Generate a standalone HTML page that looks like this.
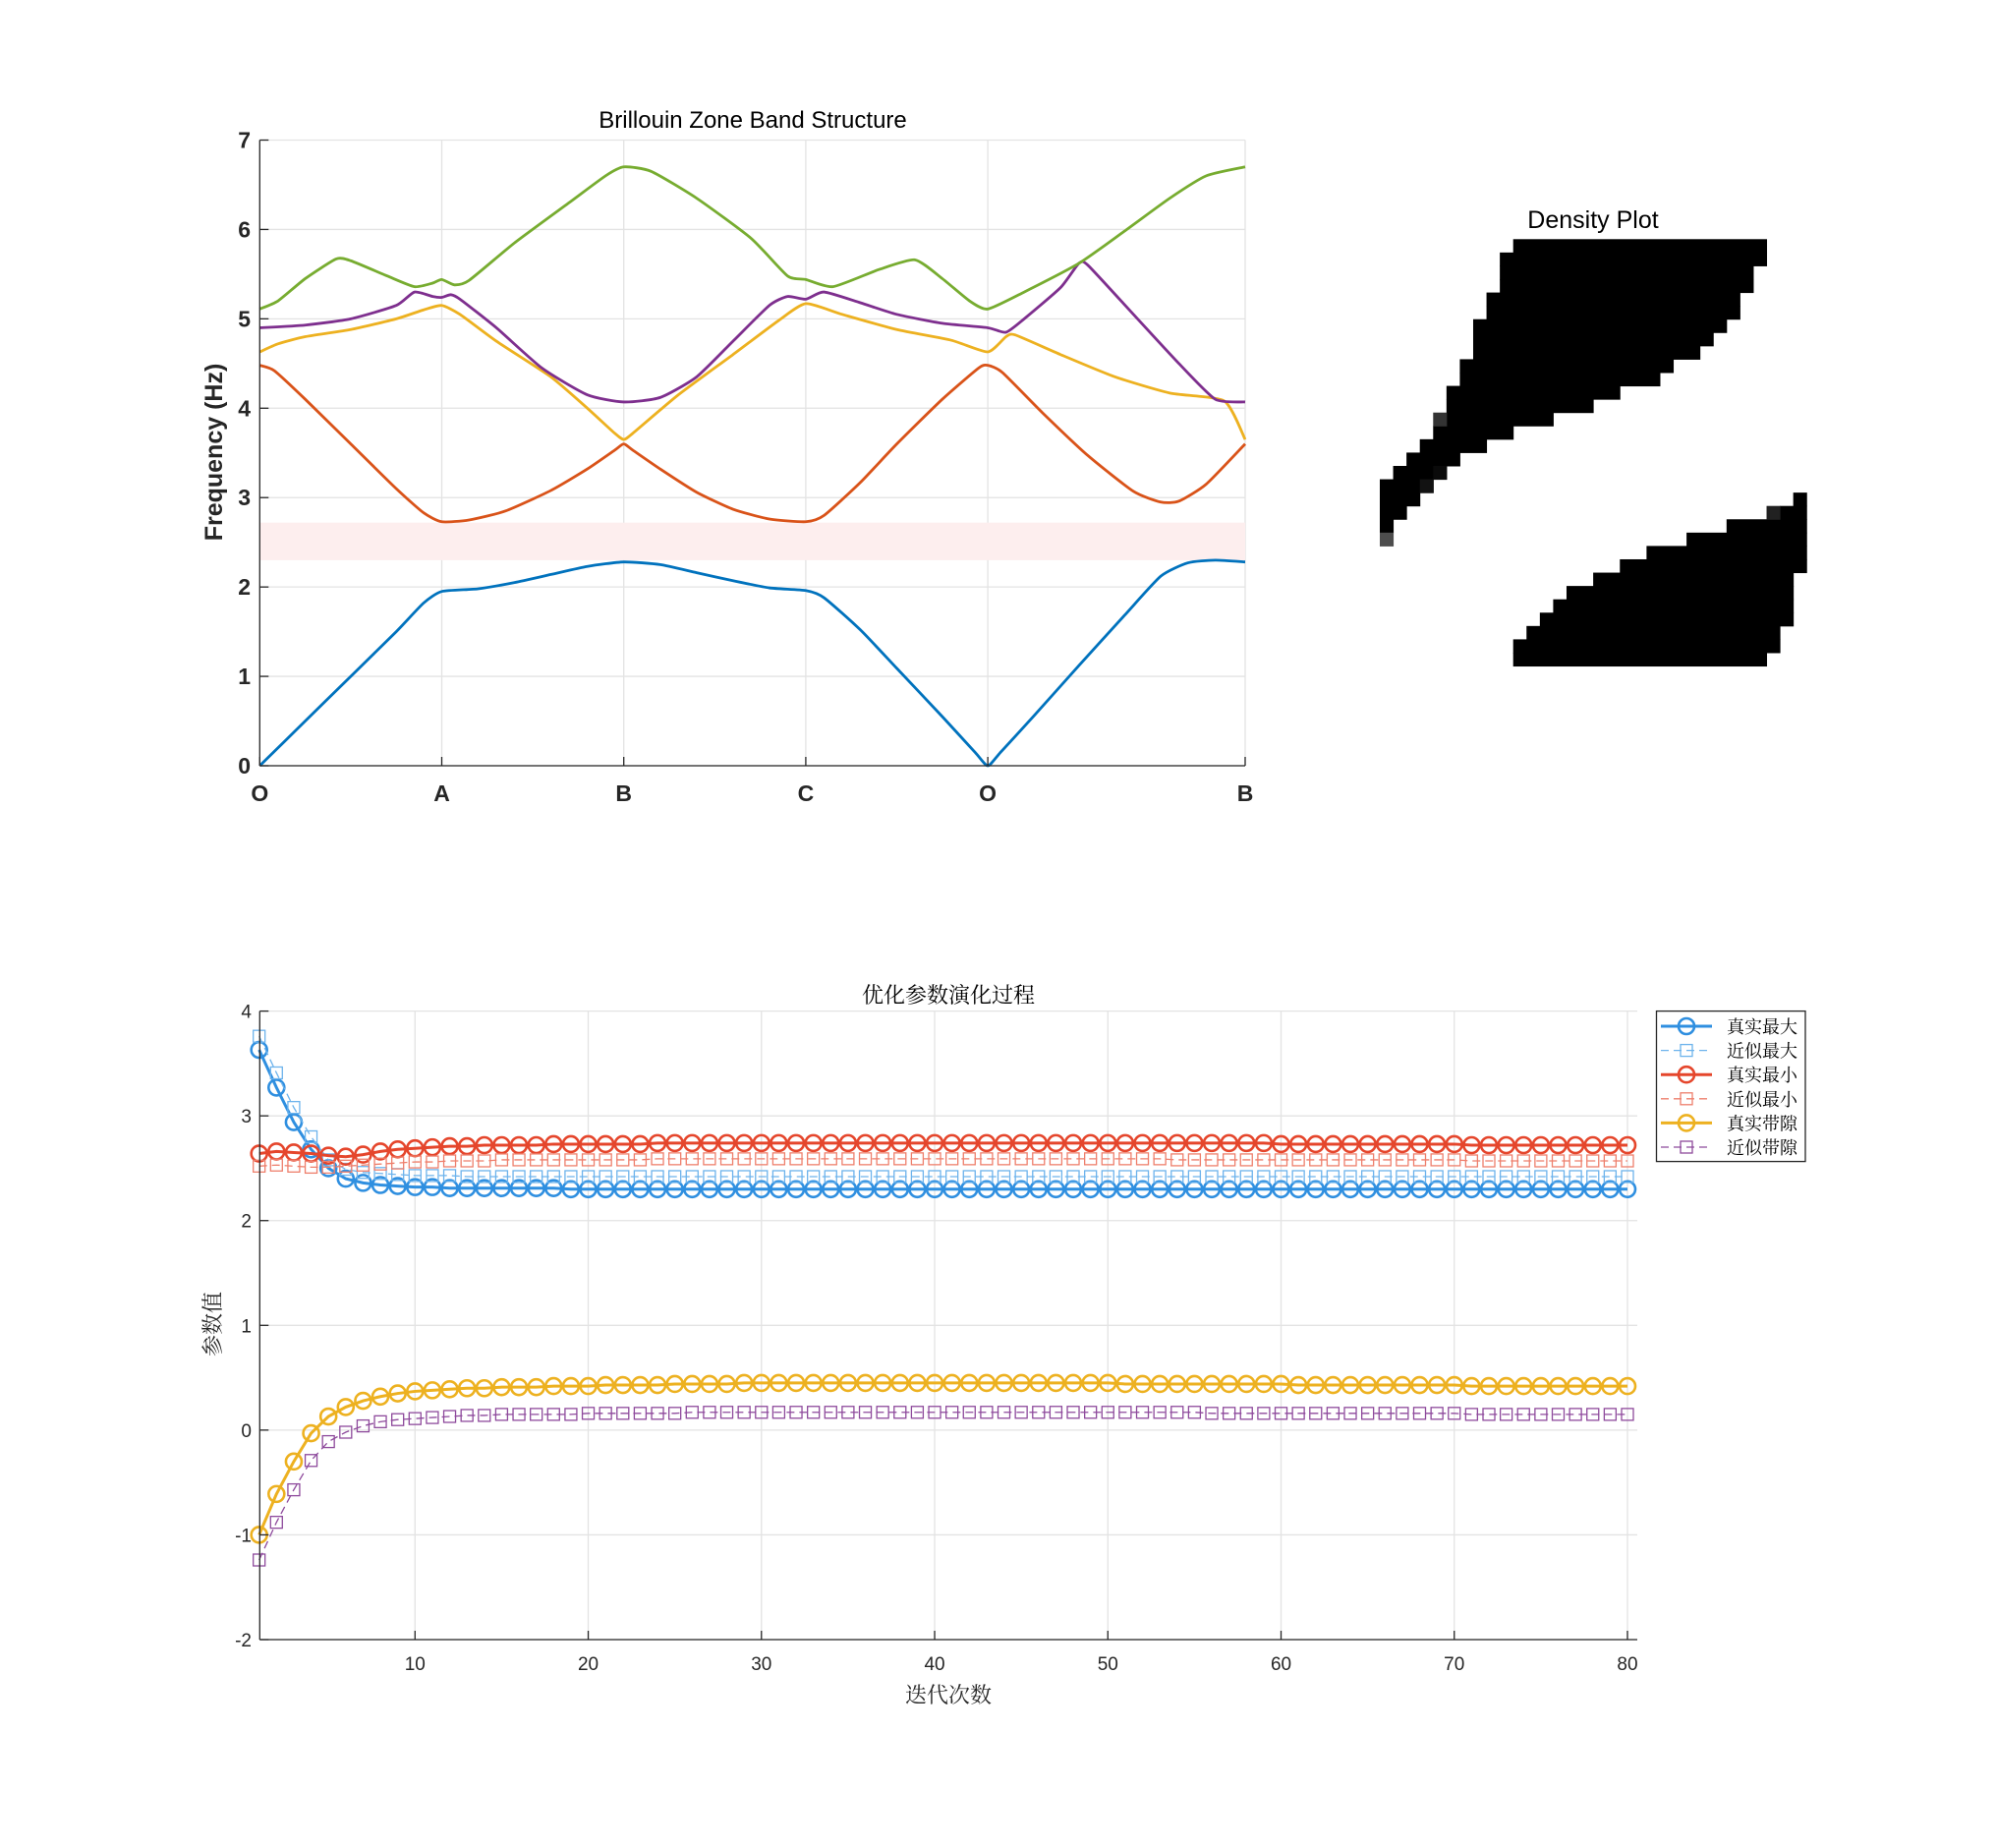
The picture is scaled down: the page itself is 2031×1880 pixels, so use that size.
<!DOCTYPE html>
<html><head><meta charset="utf-8"><style>
html,body{margin:0;padding:0;background:#fff;}
svg text{font-family:"Liberation Sans","Noto Sans CJK SC",sans-serif;}
.cjk{font-family:"Liberation Serif","Noto Serif CJK SC",serif !important;}
</style></head><body>
<svg id="fig" width="2031" height="1875" viewBox="0 0 2031 1875" xmlns="http://www.w3.org/2000/svg">
<rect width="2031" height="1875" fill="#fff"/>
<g id="top"></g>
<g id="dens"></g>
<g id="bot"></g>
</svg>
<script>
// ---------- Band structure data ----------
const kTicks = [0,1,2,3,4,5.414];
const kLabels = ['O','A','B','C','O','B'];
const freqTicks = [0,1,2,3,4,5,6,7];
const gapRange = [2.30,2.72];
const bandBlueK = [0,0.25,0.5,0.75,0.9,1.0,1.2,1.4,1.6,1.8,2.0,2.2,2.4,2.6,2.8,3.0,3.1,3.3,3.5,3.75,3.93,4.0,4.07,4.25,4.5,4.75,4.95,5.1,5.25,5.414];
const bandBlueF = [0,0.5,1.0,1.5,1.82,1.95,1.98,2.05,2.14,2.23,2.28,2.25,2.16,2.07,1.99,1.96,1.88,1.52,1.09,0.55,0.15,0,0.15,0.55,1.12,1.68,2.12,2.27,2.30,2.28];
const bandRedK = [0,0.08,0.25,0.5,0.75,0.9,1.0,1.15,1.35,1.6,1.8,1.95,2.0,2.05,2.2,2.4,2.6,2.8,3.0,3.1,3.3,3.5,3.75,3.95,4.0,4.08,4.3,4.55,4.8,4.95,5.05,5.2,5.414];
const bandRedF = [4.48,4.42,4.1,3.6,3.1,2.83,2.73,2.75,2.85,3.08,3.32,3.53,3.6,3.53,3.32,3.06,2.87,2.76,2.73,2.8,3.17,3.6,4.1,4.45,4.48,4.4,3.95,3.47,3.07,2.95,2.96,3.15,3.6];
const bandYellowK = [0,0.1,0.25,0.5,0.75,0.9,1.0,1.1,1.3,1.6,1.8,1.95,2.0,2.05,2.3,2.6,2.85,3.0,3.2,3.5,3.8,4.0,4.1,4.15,4.4,4.7,5.0,5.3,5.414];
const bandYellowF = [4.63,4.72,4.8,4.88,5.0,5.1,5.15,5.05,4.75,4.35,4.0,3.72,3.65,3.72,4.15,4.6,4.98,5.17,5.05,4.88,4.76,4.63,4.8,4.82,4.6,4.35,4.17,4.08,3.65];
const bandPurpleK = [0,0.25,0.5,0.75,0.85,0.95,1.0,1.05,1.1,1.3,1.55,1.8,2.0,2.2,2.4,2.6,2.8,2.9,3.0,3.1,3.3,3.5,3.75,4.0,4.1,4.2,4.4,4.5,4.55,4.8,5.05,5.25,5.414];
const bandPurpleF = [4.9,4.93,5.0,5.15,5.3,5.25,5.24,5.27,5.22,4.9,4.45,4.15,4.07,4.12,4.35,4.75,5.15,5.25,5.22,5.3,5.18,5.05,4.95,4.9,4.85,5.0,5.35,5.62,5.6,5.05,4.5,4.1,4.07];
const bandGreenK = [0,0.1,0.25,0.42,0.5,0.7,0.85,0.95,1.0,1.07,1.15,1.4,1.7,1.9,2.0,2.15,2.4,2.7,2.9,3.0,3.15,3.4,3.6,3.75,3.9,4.0,4.2,4.5,4.75,5.0,5.2,5.414];
const bandGreenF = [5.11,5.2,5.45,5.67,5.65,5.48,5.36,5.4,5.44,5.38,5.43,5.85,6.3,6.6,6.7,6.65,6.35,5.9,5.48,5.44,5.36,5.55,5.66,5.45,5.2,5.11,5.3,5.62,5.98,6.35,6.6,6.7];

// ---------- Density image (row: [startCol,endCol,...]) ----------
const densRows = [
[10,28],[9,28],[9,27],[9,27],[8,26],[8,26],[7,25],[7,24],[7,23],[6,21],
[6,20],[5,17],[5,15],[5,12],[4,9],[3,7],[2,5],[1,4],[0,3],[0,2,31,31],
[0,1,30,31],[0,0,26,31],[23,31],[20,31],[18,31],[16,30],[14,30],[13,30],[12,30],[11,29],
[10,29],[10,28]];
const densGray = [[13,4,0.8],[17,4,0.96],[18,3,0.93],[22,0,0.7],[20,29,0.87]];

// ---------- Optimization data ----------
const iterTicks = [10,20,30,40,50,60,70,80];
const valTicks = [-2,-1,0,1,2,3,4];
const trueMax = [3.63,3.27,2.94,2.68,2.50,2.40,2.36,2.34,2.33,2.32,2.32,2.31,2.31,2.31,2.31,2.31,2.31,2.31,2.30,2.30,2.30,2.30,2.30,2.30,2.30,2.30,2.30,2.30,2.30,2.30,2.30,2.30,2.30,2.30,2.30,2.30,2.30,2.30,2.30,2.30,2.30,2.30,2.30,2.30,2.30,2.30,2.30,2.30,2.30,2.30,2.30,2.30,2.30,2.30,2.30,2.30,2.30,2.30,2.30,2.30,2.30,2.30,2.30,2.30,2.30,2.30,2.30,2.30,2.30,2.30,2.30,2.30,2.30,2.30,2.30,2.30,2.30,2.30,2.30,2.30];
const approxMax = [3.76,3.41,3.08,2.80,2.58,2.49,2.46,2.45,2.44,2.43,2.43,2.43,2.42,2.42,2.42,2.42,2.42,2.42,2.42,2.42,2.42,2.42,2.42,2.42,2.42,2.42,2.42,2.42,2.42,2.42,2.42,2.42,2.42,2.42,2.42,2.42,2.42,2.42,2.42,2.42,2.42,2.42,2.42,2.42,2.42,2.42,2.42,2.42,2.42,2.42,2.42,2.42,2.42,2.42,2.42,2.42,2.42,2.42,2.42,2.42,2.42,2.42,2.42,2.42,2.42,2.42,2.42,2.42,2.42,2.42,2.42,2.42,2.42,2.42,2.42,2.42,2.42,2.42,2.42,2.42];
const trueMin = [2.64,2.66,2.65,2.64,2.62,2.61,2.63,2.66,2.68,2.69,2.70,2.71,2.71,2.72,2.72,2.72,2.72,2.73,2.73,2.73,2.73,2.73,2.73,2.74,2.74,2.74,2.74,2.74,2.74,2.74,2.74,2.74,2.74,2.74,2.74,2.74,2.74,2.74,2.74,2.74,2.74,2.74,2.74,2.74,2.74,2.74,2.74,2.74,2.74,2.74,2.74,2.74,2.74,2.74,2.74,2.74,2.74,2.74,2.74,2.73,2.73,2.73,2.73,2.73,2.73,2.73,2.73,2.73,2.73,2.73,2.72,2.72,2.72,2.72,2.72,2.72,2.72,2.72,2.72,2.72];
const approxMin = [2.52,2.53,2.52,2.51,2.51,2.52,2.53,2.54,2.55,2.56,2.56,2.57,2.57,2.57,2.58,2.58,2.58,2.58,2.58,2.58,2.58,2.58,2.58,2.59,2.59,2.59,2.59,2.59,2.59,2.59,2.59,2.59,2.59,2.59,2.59,2.59,2.59,2.59,2.59,2.59,2.59,2.59,2.59,2.59,2.59,2.59,2.59,2.59,2.59,2.59,2.59,2.59,2.59,2.58,2.58,2.58,2.58,2.58,2.58,2.58,2.58,2.58,2.58,2.58,2.58,2.58,2.58,2.58,2.58,2.58,2.57,2.57,2.57,2.57,2.57,2.57,2.57,2.57,2.57,2.57];
const trueGap = [-1.00,-0.61,-0.30,-0.03,0.13,0.22,0.28,0.32,0.35,0.37,0.38,0.39,0.40,0.40,0.41,0.41,0.41,0.42,0.42,0.42,0.43,0.43,0.43,0.43,0.44,0.44,0.44,0.44,0.45,0.45,0.45,0.45,0.45,0.45,0.45,0.45,0.45,0.45,0.45,0.45,0.45,0.45,0.45,0.45,0.45,0.45,0.45,0.45,0.45,0.45,0.44,0.44,0.44,0.44,0.44,0.44,0.44,0.44,0.44,0.44,0.43,0.43,0.43,0.43,0.43,0.43,0.43,0.43,0.43,0.43,0.42,0.42,0.42,0.42,0.42,0.42,0.42,0.42,0.42,0.42];
const approxGap = [-1.24,-0.88,-0.57,-0.29,-0.11,-0.02,0.04,0.08,0.10,0.11,0.12,0.13,0.14,0.14,0.15,0.15,0.15,0.15,0.15,0.16,0.16,0.16,0.16,0.16,0.16,0.17,0.17,0.17,0.17,0.17,0.17,0.17,0.17,0.17,0.17,0.17,0.17,0.17,0.17,0.17,0.17,0.17,0.17,0.17,0.17,0.17,0.17,0.17,0.17,0.17,0.17,0.17,0.17,0.17,0.17,0.16,0.16,0.16,0.16,0.16,0.16,0.16,0.16,0.16,0.16,0.16,0.16,0.16,0.16,0.16,0.15,0.15,0.15,0.15,0.15,0.15,0.15,0.15,0.15,0.15];
const seriesNames = ['真实最大','近似最大','真实最小','近似最小','真实带隙','近似带隙'];

const NS='http://www.w3.org/2000/svg';
function mk(parent,tag,attrs,text){const e=document.createElementNS(NS,tag);for(const k in attrs)e.setAttribute(k,attrs[k]);if(text!==undefined)e.textContent=text;parent.appendChild(e);return e;}

// ===== Top chart =====
const T=document.getElementById('top');
const tL=264.3,tR=1267,tT=142.5,tB=779;
const tx=k=>tL+(k/5.414)*(tR-tL);
const ty=f=>tB-(f/7)*(tB-tT);
let g=mk(T,'g',{});


kTicks.forEach(k=>{mk(g,'line',{x1:tx(k),x2:tx(k),y1:tT,y2:tB,stroke:'#e3e3e3','stroke-width':1.3});});
freqTicks.forEach(f=>{mk(g,'line',{x1:tL,x2:tR,y1:ty(f),y2:ty(f),stroke:'#e3e3e3','stroke-width':1.3});});
const gap=mk(T,'rect',{x:tL,y:ty(gapRange[1]),width:tR-tL,height:ty(gapRange[0])-ty(gapRange[1]),fill:'#fdeeee'});


function smooth(pts){let d='M'+pts[0][0]+','+pts[0][1];for(let i=0;i<pts.length-1;i++){const p0=pts[Math.max(0,i-1)],p1=pts[i],p2=pts[i+1],p3=pts[Math.min(pts.length-1,i+2)];const t=0.1;const c1=[p1[0]+(p2[0]-p0[0])*t,p1[1]+(p2[1]-p0[1])*t];const c2=[p2[0]-(p3[0]-p1[0])*t,p2[1]-(p3[1]-p1[1])*t];d+=' C'+c1[0]+','+c1[1]+' '+c2[0]+','+c2[1]+' '+p2[0]+','+p2[1];}return d;}
const bands=[['band-1',bandBlueK,bandBlueF,'#0072BD'],['band-2',bandRedK,bandRedF,'#D95319'],['band-3',bandYellowK,bandYellowF,'#EDB120'],['band-4',bandPurpleK,bandPurpleF,'#7E2F8E'],['band-5',bandGreenK,bandGreenF,'#77AC30']];
bands.forEach(b=>{const pts=b[1].map((k,i)=>[tx(k),ty(b[2][i])]);const p=mk(T,'path',{d:smooth(pts),fill:'none',stroke:b[3],'stroke-width':2.8,'stroke-linejoin':'round'});

});
mk(T,'line',{x1:tL,x2:tL,y1:tT,y2:tB,stroke:'#262626','stroke-width':1.3});
mk(T,'line',{x1:tL,x2:tR,y1:tB,y2:tB,stroke:'#262626','stroke-width':1.3});
kTicks.forEach((k,i)=>{mk(T,'line',{x1:tx(k),x2:tx(k),y1:tB,y2:tB-9,stroke:'#262626','stroke-width':1.3});
const t=mk(T,'text',{x:tx(k),y:815,'text-anchor':'middle','font-size':23,'font-weight':'bold',fill:'#262626'},kLabels[i]);

});
freqTicks.forEach(f=>{mk(T,'line',{x1:tL,x2:tL+9,y1:ty(f),y2:ty(f),stroke:'#262626','stroke-width':1.3});
const t=mk(T,'text',{x:255,y:ty(f)+8,'text-anchor':'end','font-size':23,'font-weight':'bold',fill:'#262626'},f);

});
let t1=mk(T,'text',{x:766,y:130,'text-anchor':'middle','font-size':24,fill:'#000'},'Brillouin Zone Band Structure');


let t2=mk(T,'text',{x:226,y:460,'text-anchor':'middle','font-size':25,'font-weight':'bold',fill:'#262626',transform:'rotate(-90 226 460)'},'Frequency (Hz)');



// ===== Density =====
const D=document.getElementById('dens');
const dx0=1404,dy0=243.3,cs=13.57;
densRows.forEach((row,r)=>{for(let j=0;j<row.length;j+=2){const c=mk(D,'rect',{x:dx0+row[j]*cs,y:dy0+r*cs,width:(row[j+1]-row[j]+1)*cs+0.5,height:cs+0.5,fill:'#000'});

}});
densGray.forEach(gc=>{const v=Math.round(255*(1-gc[2]));const c=mk(D,'rect',{x:dx0+gc[1]*cs,y:dy0+gc[0]*cs,width:cs+0.5,height:cs+0.5,fill:`rgb(${v},${v},${v})`});

});
let t3=mk(D,'text',{x:1621,y:232,'text-anchor':'middle','font-size':25,fill:'#000'},'Density Plot');



// ===== Bottom chart =====
const B=document.getElementById('bot');
const bL=264.3,bR=1666,bT=1028.6,bB=1668;
const bx=i=>422.3+(i-10)*(1656-422.3)/70;
const by=v=>bB-(v+2)/6*(bB-bT);
g=mk(B,'g',{});


iterTicks.forEach(i=>mk(g,'line',{x1:bx(i),x2:bx(i),y1:bT,y2:bB,stroke:'#e3e3e3','stroke-width':1.3}));
valTicks.forEach(v=>mk(g,'line',{x1:bL,x2:bR,y1:by(v),y2:by(v),stroke:'#e3e3e3','stroke-width':1.3}));
const series=[[trueMax,'#2f8fe0',true],[approxMax,'#6db3ec',false],[trueMin,'#e5462c',true],[approxMin,'#ee7f6c',false],[trueGap,'#edb120',true],[approxGap,'#8e4a9c',false]];
function marker(parent,x,y,s){if(s[2])return mk(parent,'circle',{cx:x,cy:y,r:8,fill:'none',stroke:s[1],'stroke-width':2.6});return mk(parent,'rect',{x:x-6,y:y-6,width:12,height:12,fill:'none',stroke:s[1],'stroke-width':1.3});}
series.forEach((s,si)=>{const sg=mk(B,'g',{});


const pts=s[0].map((v,i)=>bx(i+1)+','+by(v)).join(' ');
mk(sg,'polyline',{points:pts,fill:'none',stroke:s[1],'stroke-width':s[2]?3:1.3,'stroke-dasharray':s[2]?'none':'8,5'});
s[0].forEach((v,i)=>{const m=marker(sg,bx(i+1),by(v),s);

});});
mk(B,'line',{x1:bL,x2:bL,y1:bT,y2:bB,stroke:'#262626','stroke-width':1.3});
mk(B,'line',{x1:bL,x2:bR,y1:bB,y2:bB,stroke:'#262626','stroke-width':1.3});
iterTicks.forEach(i=>{mk(B,'line',{x1:bx(i),x2:bx(i),y1:bB,y2:bB-9,stroke:'#262626','stroke-width':1.3});
const t=mk(B,'text',{x:bx(i),y:1699,'text-anchor':'middle','font-size':19,fill:'#262626'},i);

});
valTicks.forEach(v=>{mk(B,'line',{x1:bL,x2:bL+9,y1:by(v),y2:by(v),stroke:'#262626','stroke-width':1.3});
const t=mk(B,'text',{x:256,y:by(v)+7,'text-anchor':'end','font-size':19,fill:'#262626'},v);

});
let t4=mk(B,'text',{x:965,y:1020,'text-anchor':'middle','font-size':22,fill:'#000',class:'cjk'},'优化参数演化过程');


let t5=mk(B,'text',{x:965,y:1732,'text-anchor':'middle','font-size':22,fill:'#262626',class:'cjk'},'迭代次数');


let t6=mk(B,'text',{x:224,y:1347,'text-anchor':'middle','font-size':22,fill:'#262626',class:'cjk',transform:'rotate(-90 224 1347)'},'参数值');


// legend
const lg=mk(B,'g',{});


mk(lg,'rect',{x:1685.5,y:1028.6,width:151.5,height:153,fill:'#fff',stroke:'#262626','stroke-width':1.3});
series.forEach((s,i)=>{const y=1044+i*24.6;const eg=mk(lg,'g',{});


mk(eg,'line',{x1:1690,x2:1742,y1:y,y2:y,stroke:s[1],'stroke-width':s[2]?3:1.3,'stroke-dasharray':s[2]?'none':'8,5'});
marker(eg,1716,y,s);
mk(eg,'text',{x:1757,y:y+7,'font-size':18,fill:'#000',class:'cjk'},seriesNames[i]);});
</script>
</body></html>
